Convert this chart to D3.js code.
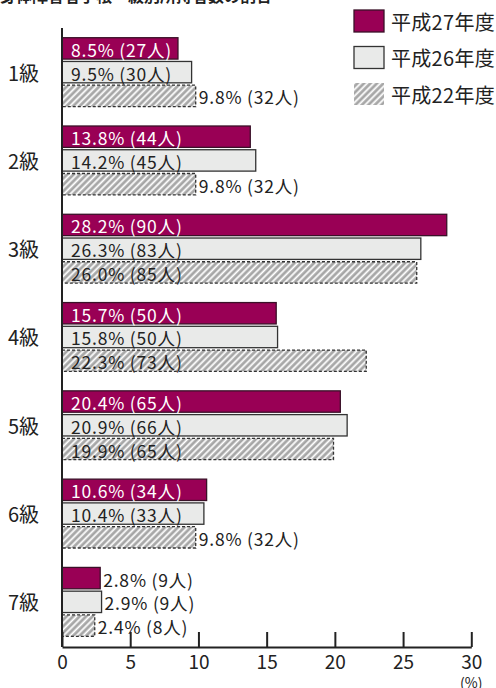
<!DOCTYPE html>
<html>
<head>
<meta charset="utf-8">
<script src="https://cdn.jsdelivr.net/npm/d3@7"></script>
<style>
  body { margin: 0; background: #fff; }
  svg text { font-family: "Noto Sans CJK JP", "Noto Sans", sans-serif; }
</style>
</head>
<body>
<svg id="chart" width="496" height="688"></svg>
<script>
const grades = ["1級", "2級", "3級", "4級", "5級", "6級", "7級"];
const seriesNames = ["平成27年度", "平成26年度", "平成22年度"];
const pctH27 = [8.5, 13.8, 28.2, 15.7, 20.4, 10.6, 2.8];
const numH27 = [27, 44, 90, 50, 65, 34, 9];
const pctH26 = [9.5, 14.2, 26.3, 15.8, 20.9, 10.4, 2.9];
const numH26 = [30, 45, 83, 50, 66, 33, 9];
const pctH22 = [9.8, 9.8, 26.0, 22.3, 19.9, 9.8, 2.4];
const numH22 = [32, 32, 85, 73, 65, 32, 8];
const xTicks = [0, 5, 10, 15, 20, 25, 30];

const svg = d3.select("#chart");

// hatch for the H22 bars
const defs = svg.append("defs");
const pat = defs.append("pattern")
    .attr("id", "hatch")
    .attr("patternUnits", "userSpaceOnUse")
    .attr("width", 4.6).attr("height", 4.6)
    .attr("patternTransform", "rotate(45)");
pat.append("rect").attr("width", 4.6).attr("height", 4.6).attr("fill", "#a6a6a6");
pat.append("line")
    .attr("x1", 1.2).attr("y1", 0).attr("x2", 1.2).attr("y2", 4.6)
    .attr("stroke", "#fff").attr("stroke-width", 1.8);

const styles = [
    {fill: "#990055", stroke: "#3a1128", dash: null, text: "#fff", inside: 5},
    {fill: "#e9eae9", stroke: "#333", dash: null, text: "#222", inside: 5},
    {fill: "url(#hatch)", stroke: "#333", dash: "3,2", text: "#222", inside: 15}
];

const rows = grades.map((g, i) => ({
    grade: g,
    vals: [
        {s: 0, pct: pctH27[i], n: numH27[i]},
        {s: 1, pct: pctH26[i], n: numH26[i]},
        {s: 2, pct: pctH22[i], n: numH22[i]}
    ]
}));

const x = d3.scaleLinear().domain([0, 30]).range([62, 471.3]);
const y = d3.scaleBand().domain(grades).range([28, 646])
    .paddingInner(0.22).paddingOuter(0.11);
const ySub = d3.scaleBand().domain([0, 1, 2]).range([0, y.bandwidth()]).paddingInner(0.1);

// title (cut off at top of the picture)
svg.append("text")
    .attr("x", 0).attr("y", 2)
    .attr("font-size", "16px").attr("font-weight", "bold")
    .attr("fill", "#222")
    .text("身体障害者手帳・級別所持者数の割合");

const groups = svg.selectAll(".grp")
    .data(rows)
    .enter().append("g")
    .attr("class", "grp")
    .attr("transform", d => `translate(0,${y(d.grade)})`);

groups.append("text")
    .attr("x", 23.5).attr("y", y.bandwidth() / 2)
    .attr("text-anchor", "middle")
    .attr("dominant-baseline", "central")
    .attr("font-size", "20px")
    .attr("fill", "#222")
    .text(d => d.grade);

groups.selectAll("rect")
    .data(d => d.vals)
    .enter().append("rect")
    .attr("x", x(0))
    .attr("y", d => ySub(d.s))
    .attr("width", d => x(d.pct) - x(0))
    .attr("height", ySub.bandwidth())
    .attr("fill", d => styles[d.s].fill)
    .attr("stroke", d => styles[d.s].stroke)
    .attr("stroke-width", 1.3)
    .attr("stroke-dasharray", d => styles[d.s].dash);

groups.selectAll(".lbl")
    .data(d => d.vals)
    .enter().append("text")
    .attr("class", "lbl")
    .attr("x", d => d.pct >= styles[d.s].inside ? x(0) + 9 : x(d.pct) + 3)
    .attr("y", d => ySub(d.s) + ySub.bandwidth() / 2 + 1)
    .attr("dominant-baseline", "central")
    .attr("font-size", "17.5px")
    .attr("letter-spacing", "0.8px")
    .attr("fill", d => d.pct >= styles[d.s].inside ? styles[d.s].text : "#222")
    .text(d => `${d.pct.toFixed(1)}% (${d.n}人)`);

// vertical axis line
svg.append("line")
    .attr("x1", x(0)).attr("x2", x(0))
    .attr("y1", 28).attr("y2", 647)
    .attr("stroke", "#222").attr("stroke-width", 2);

// bottom axis, ticks pointing up
const xAxis = d3.axisBottom(x).tickValues(xTicks).tickSize(-15).tickSizeOuter(0).tickPadding(8);
const ax = svg.append("g")
    .attr("transform", "translate(0,647)")
    .call(xAxis);
ax.select(".domain").attr("stroke", "#222").attr("stroke-width", 2);
ax.selectAll(".tick line").attr("stroke", "#222").attr("stroke-width", 2);
ax.selectAll(".tick text")
    .attr("font-size", "19px")
    .attr("fill", "#222")
    .attr("font-family", "'Noto Sans CJK JP', sans-serif");

svg.append("text")
    .attr("x", x(30)).attr("y", 687.5)
    .attr("text-anchor", "middle")
    .attr("font-size", "14px")
    .attr("fill", "#222")
    .text("(%)");

// legend
const legend = svg.append("g");
seriesNames.forEach((name, i) => {
    const ly = 10 + i * 36.5;
    legend.append("rect")
        .attr("x", 354).attr("y", ly)
        .attr("width", 30).attr("height", 22)
        .attr("fill", styles[i].fill)
        .attr("stroke", i === 2 ? "none" : styles[i].stroke)
        .attr("stroke-width", 1.3);
    legend.append("text")
        .attr("x", 391).attr("y", ly + 11)
        .attr("dominant-baseline", "central")
        .attr("font-size", "20px")
        .attr("letter-spacing", "0.3px")
        .attr("fill", "#222")
        .text(name);
});
</script>
</body>
</html>
